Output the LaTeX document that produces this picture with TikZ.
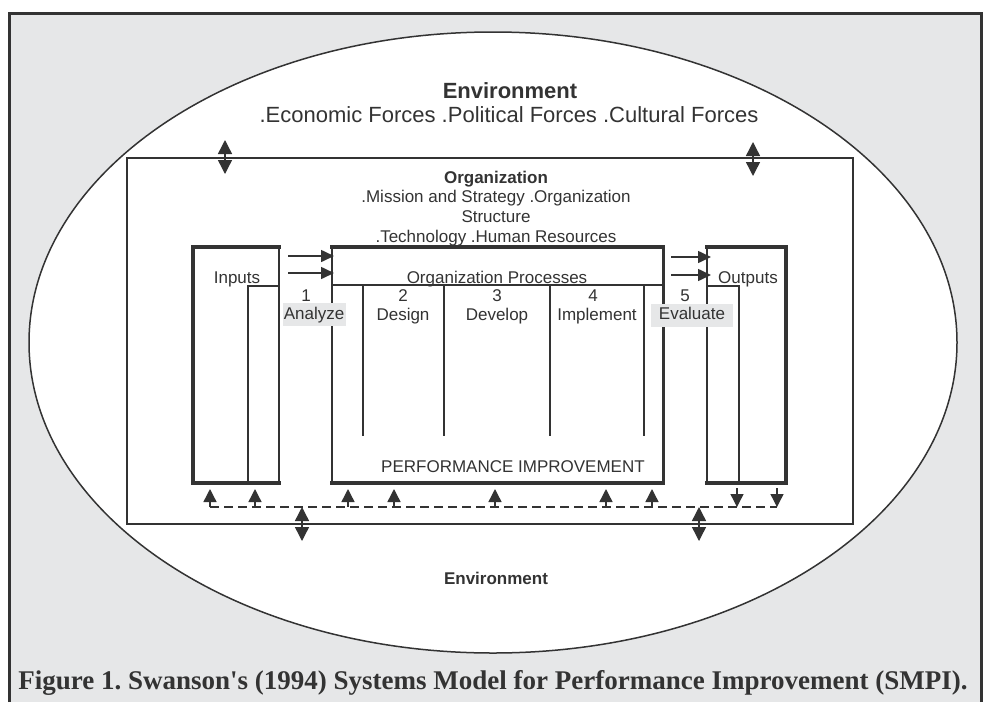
\documentclass[tikz,border=0pt]{standalone}
\usepackage{fontspec}
\setmainfont{Liberation Sans}
\newfontfamily\capfont[Ligatures=TeXOff]{Liberation Serif}
\usetikzlibrary{arrows.meta}
\definecolor{ink}{HTML}{333333}
\definecolor{paper}{HTML}{E6E7E8}
\frenchspacing
\begin{document}
\begin{tikzpicture}[x=1pt,y=-1pt,
  hairline/.style={draw=ink,line width=1.5pt},
  midline/.style={draw=ink,line width=2pt},
  heavyline/.style={draw=ink,line width=4pt,line cap=rect},
  txt/.style={inner sep=0pt,anchor=base,text=ink,font=\fontsize{17}{20}\selectfont},
  bigtxt/.style={txt,font=\fontsize{22}{26}\selectfont},
  stepnum/.style={txt},
  stepname/.style={txt},
  shade/.style={fill=paper,draw=none},
  twohead/.style={draw=ink,line width=1.4pt,
    {Triangle[length=14pt,width=14pt]}-{Triangle[length=14pt,width=14pt]}},
  feed/.style={draw=ink,line width=1.4pt,-{Triangle[length=13pt,width=13pt]}},
  flow/.style={draw=ink,line width=1.6pt,-{Triangle[length=13pt,width=12pt]}},
  loop/.style={draw=ink,line width=1.5pt,dash pattern=on 9pt off 5pt}]

% page and frame
\useasboundingbox (0,0) rectangle (983,702);
\fill[white] (0,0) rectangle (983,702);
\fill[paper] (9,13) rectangle (981,702);
\draw[ink,line width=3pt] (9,702) -- (9,13) -- (981,13) -- (981,702);

% environment ellipse
\draw[ink,line width=1.5pt,fill=white] (493,342.5) ellipse [x radius=464, y radius=310.5];

% organization frame
\draw[hairline] (127,158) rectangle (853,524);

% Inputs block
\draw[midline] (279,247) -- (279,483);
\draw[heavyline] (279,247) -- (193,247) -- (193,483) -- (279,483);
\draw[midline] (248,483) -- (248,286) -- (279,286);

% Organization processes block
\draw[midline] (332,247) -- (332,483);
\draw[midline] (332,285) -- (663,285);
\draw[heavyline] (332,247) -- (663,247);
\draw[midline,line width=3pt] (663,247) -- (663,483);
\draw[heavyline] (332,483) -- (663,483);
\foreach \sx in {363,444,550,644} \draw[midline] (\sx,285) -- (\sx,436);

% Outputs block
\draw[midline] (707,247) -- (707,483);
\draw[heavyline] (707,247) -- (786,247) -- (786,483) -- (707,483);
\draw[midline] (707,286) -- (739,286) -- (739,483);

% feed arrows into the process block and into outputs
\coordinate (ia1) at (288,256); \coordinate (ib1) at (334,256);
\coordinate (ia2) at (288,273); \coordinate (ib2) at (334,273);
\coordinate (oa1) at (671,257); \coordinate (ob1) at (711,257);
\coordinate (oa2) at (671,275); \coordinate (ob2) at (711,275);
\draw[flow] (ia1) -- (ib1);
\draw[flow] (ia2) -- (ib2);
\draw[flow] (oa1) -- (ob1);
\draw[flow] (oa2) -- (ob2);

% exchanges across the organization boundary
\coordinate (tl1) at (225,140); \coordinate (tl2) at (225,174);
\coordinate (tr1) at (753,142); \coordinate (tr2) at (753,176);
\coordinate (bl1) at (302,507); \coordinate (bl2) at (302,541);
\coordinate (br1) at (699,507); \coordinate (br2) at (699,541);
\draw[twohead] (tl1) -- (tl2);
\draw[twohead] (tr1) -- (tr2);
\draw[twohead] (bl1) -- (bl2);
\draw[twohead] (br1) -- (br2);

% feedback loop
\coordinate (la) at (210,507); \coordinate (lb) at (777,507);
\draw[loop] (la) -- (lb);
\foreach \fx [count=\k] in {210,255,348,394,495,606,652} {
  \coordinate (up\k) at (\fx,507);
  \coordinate (upt\k) at (\fx,489);
  \draw[feed] (up\k) -- (upt\k);
}
\foreach \fx [count=\k] in {737,777} {
  \coordinate (dn\k) at (\fx,488);
  \coordinate (dnt\k) at (\fx,507);
  \draw[feed] (dn\k) -- (dnt\k);
}

% step label backgrounds
\fill[shade] (283,303) rectangle (346,326);
\fill[shade] (651,304) rectangle (733,327);

% texts
\node[bigtxt,font=\bfseries\fontsize{22}{26}\selectfont] (envtop) at (510,98) {Environment};
\node[bigtxt] (forces) at (509,122) {.Economic Forces .Political Forces .Cultural Forces};
\node[txt,font=\bfseries\fontsize{17}{20}\selectfont] (org) at (496,183) {Organization};
\node[txt] (org1) at (496,202) {.Mission and Strategy .Organization};
\node[txt] (org2) at (496,222) {Structure};
\node[txt] (org3) at (496,242) {.Technology .Human Resources};
\node[txt] (inputs) at (237,283) {Inputs};
\node[txt] (procs) at (497,283) {Organization Processes};
\node[txt] (outputs) at (748,283) {Outputs};
\node[stepnum] (n1) at (306,301) {1};
\node[stepname] (s1) at (314,319) {Analyze};
\node[stepnum] (n2) at (403,301) {2};
\node[stepname] (s2) at (403,320) {Design};
\node[stepnum] (n3) at (497,301) {3};
\node[stepname] (s3) at (497,320) {Develop};
\node[stepnum] (n4) at (593,301) {4};
\node[stepname] (s4) at (597,320) {Implement};
\node[stepnum] (n5) at (685,301) {5};
\node[stepname] (s5) at (692,319) {Evaluate};
\node[txt] (perf) at (513,472) {PERFORMANCE IMPROVEMENT};
\node[txt,font=\bfseries\fontsize{17}{20}\selectfont] (envbot) at (496,584) {Environment};
\node[inner sep=0pt,anchor=base,text=ink,font=\capfont\bfseries\fontsize{27}{30}\selectfont] (caption) at (493,689)
  {Figure 1. Swanson's (1994) Systems Model for Performance Improvement (SMPI).};
\end{tikzpicture}
\end{document}
